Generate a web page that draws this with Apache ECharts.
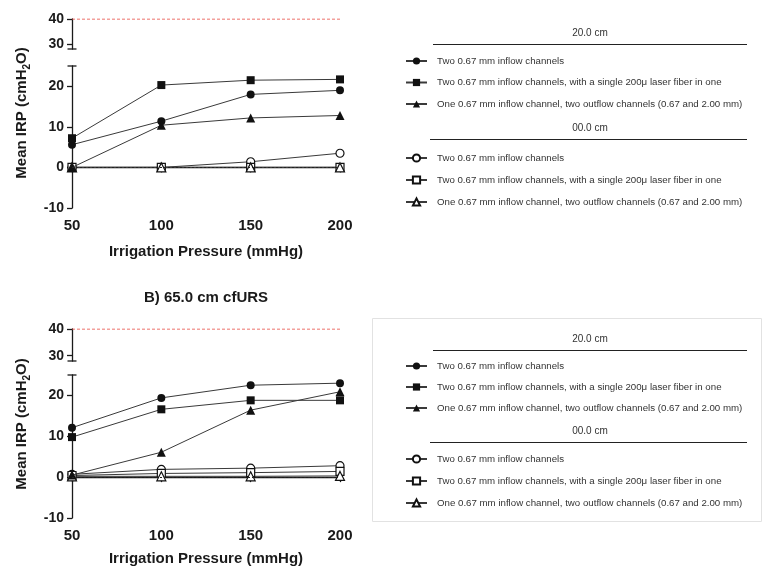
<!DOCTYPE html>
<html>
<head>
<meta charset="utf-8">
<script src="https://cdn.jsdelivr.net/npm/echarts@6/dist/echarts.min.js"></script>
<style>
html, body { margin: 0; padding: 0; background: #fff; }
#chart { width: 763px; height: 567px; }
</style>
</head>
<body>
<div id="chart"></div>
<script>
// Irrigation pressure settings (mmHg)
const pressures = [50, 100, 150, 200];
const xTicks = [50, 100, 150, 200];
const yTicksLower = [-10, 0, 10, 20];
const yTicksUpper = [30, 40];
const limitIRP = 40;

// Configuration labels (open-marker names carry a trailing space so the two groups stay distinct)
const cfgTwo = 'Two 0.67 mm inflow channels';
const cfgFiber = 'Two 0.67 mm inflow channels, with a single 200\u03bc laser fiber in one';
const cfgOutflow = 'One 0.67 mm inflow channel, two outflow channels (0.67 and 2.00 mm)';
const groupHigh = '20.0 cm';
const groupLow = '00.0 cm';
const panelBTitle = 'B) 65.0 cm cfURS';

// Panel A: mean IRP (cmH2O)
const a20Two = [5.6, 11.4, 18.0, 19.0];
const a20Fiber = [7.2, 20.3, 21.5, 21.7];
const a20Outflow = [0, 10.4, 12.2, 12.8];
const a00Two = [0, 0, 1.4, 3.5];
const a00Fiber = [0, 0, 0, 0];
const a00Outflow = [0, 0, 0, 0];

// Panel B: mean IRP (cmH2O)
const b20Two = [12.1, 19.4, 22.5, 23.0];
const b20Fiber = [9.8, 16.6, 18.8, 18.8];
const b20Outflow = [0.5, 6.1, 16.4, 20.9];
const b00Two = [0.7, 1.9, 2.2, 2.8];
const b00Fiber = [0.4, 0.9, 1.1, 1.4];
const b00Outflow = [0.2, 0.2, 0.2, 0.3];

const FONT = 'Liberation Sans, Arial, sans-serif';
const INK = '#1a1a1a';

// Panel geometry: each panel has an upper (30-40) and lower (-10-25) segment
const panels = [
  { upperTop: 19, upperH: 30, lowerTop: 66, lowerBottom: 208, nameGap: 36 },
  { upperTop: 329, upperH: 32, lowerTop: 375, lowerBottom: 518, nameGap: 33 }
];
const plotLeft = 72, plotWidth = 268;

const grids = [], xAxes = [], yAxes = [];
panels.forEach((p, i) => {
  grids.push({ left: plotLeft, width: plotWidth, top: p.upperTop, height: p.upperH, outerBoundsMode: 'none' });
  grids.push({ left: plotLeft, width: plotWidth, top: p.lowerTop, height: p.lowerBottom - p.lowerTop, outerBoundsMode: 'none' });
  xAxes.push({ type: 'value', gridIndex: 2 * i, min: 50, max: 200, show: false });
  xAxes.push({
    type: 'value', gridIndex: 2 * i + 1, min: 50, max: 200, interval: 50,
    name: 'Irrigation Pressure (mmHg)', nameLocation: 'middle', nameGap: p.nameGap,
    nameTextStyle: { fontFamily: FONT, fontWeight: 'bold', fontSize: 15, color: INK },
    axisLine: { lineStyle: { color: INK, width: 1.3 } },
    axisTick: { show: true, length: 5, lineStyle: { color: INK, width: 1.3 } },
    axisLabel: { margin: 10, fontFamily: FONT, fontWeight: 'bold', fontSize: 15, color: INK,
      customValues: xTicks },
    splitLine: { show: false }
  });
  yAxes.push({
    type: 'value', gridIndex: 2 * i, min: 28, max: 40,
    axisLine: { show: true, lineStyle: { color: INK, width: 1.3 }, symbol: ['rect', 'none'], symbolSize: [9, 1.3] },
    axisTick: { show: true, length: 5, lineStyle: { color: INK, width: 1.3 }, customValues: yTicksUpper },
    axisLabel: { margin: 8, fontFamily: FONT, fontWeight: 'bold', fontSize: 14, color: INK, customValues: yTicksUpper },
    splitLine: { show: false }
  });
  yAxes.push({
    type: 'value', gridIndex: 2 * i + 1, min: -10, max: 25,
    axisLine: { show: true, lineStyle: { color: INK, width: 1.3 }, symbol: ['none', 'rect'], symbolSize: [9, 1.3] },
    axisTick: { show: true, length: 5, lineStyle: { color: INK, width: 1.3 }, customValues: yTicksLower },
    axisLabel: { margin: 8, fontFamily: FONT, fontWeight: 'bold', fontSize: 14, color: INK, customValues: yTicksLower },
    splitLine: { show: false }
  });
});

function pts(values) { return pressures.map((p, i) => [p, values[i]]); }

function lineSeries(name, values, shape, filled, panel) {
  const size = shape === 'triangle' ? 9 : 8;
  return {
    type: 'line', name: name, xAxisIndex: 2 * panel + 1, yAxisIndex: 2 * panel + 1,
    data: pts(values), symbol: shape, symbolSize: size, showSymbol: true,
    itemStyle: { color: filled ? '#111' : '#fff', borderColor: '#111', borderWidth: filled ? 0 : 1.2 },
    lineStyle: { color: '#3a3a3a', width: 1 },
    z: filled ? 4 : 3, animation: false, silent: true
  };
}

function panelSeries(panel, d) {
  const list = [
    lineSeries(cfgTwo, d[0], 'circle', true, panel),
    lineSeries(cfgFiber, d[1], 'rect', true, panel),
    lineSeries(cfgOutflow, d[2], 'triangle', true, panel),
    lineSeries(cfgTwo + ' ', d[3], 'circle', false, panel),
    lineSeries(cfgFiber + ' ', d[4], 'rect', false, panel),
    lineSeries(cfgOutflow + ' ', d[5], 'triangle', false, panel)
  ];
  // zero reference line
  list[5].markLine = {
    silent: true, symbol: 'none', label: { show: false }, animation: false,
    lineStyle: { color: '#222', type: [2, 2], width: 1.2 },
    data: [{ yAxis: 0 }]
  };
  // pressure limit line in the upper segment
  list.push({
    type: 'line', name: 'limit', xAxisIndex: 2 * panel, yAxisIndex: 2 * panel,
    data: pts(pressures.map(() => limitIRP)), symbol: 'none',
    lineStyle: { color: '#e8423a', type: [3, 2], width: 1 }, animation: false, silent: true
  });
  return list;
}

const series = [
  ...panelSeries(0, [a20Two, a20Fiber, a20Outflow, a00Two, a00Fiber, a00Outflow]),
  ...panelSeries(1, [b20Two, b20Fiber, b20Outflow, b00Two, b00Fiber, b00Outflow])
];

const legendText = { fontFamily: FONT, fontSize: 9.7, color: '#333', padding: [0, 0, 0, 5] };
function legendBlock(top, gap, names) {
  return {
    orient: 'vertical', left: 400, top: top, itemWidth: 21, itemHeight: 9, itemGap: gap,
    selectedMode: false, data: names, textStyle: legendText
  };
}
const filledNames = [cfgTwo, cfgFiber, cfgOutflow];
const openNames = [cfgTwo + ' ', cfgFiber + ' ', cfgOutflow + ' '];

// legend block layout: header, rule, first row of each group
const legendLayout = [
  { h1: 33, r1: 44.5, l1: 51, h2: 128.5, r2: 139.5, l2: 148, gap1: 11.5, gap2: 12 },
  { h1: 339, r1: 350.5, l1: 356, h2: 431, r2: 442.5, l2: 449, gap1: 11, gap2: 12 }
];
const legends = [];
const graphics = [];
legendLayout.forEach((L) => {
  legends.push(legendBlock(L.l1, L.gap1, filledNames));
  legends.push(legendBlock(L.l2, L.gap2, openNames));
  graphics.push({ type: 'text', x: 590, y: L.h1, style: { text: groupHigh, fontFamily: FONT, fontSize: 10, fill: '#333', align: 'center', verticalAlign: 'middle' } });
  graphics.push({ type: 'line', shape: { x1: 433, y1: L.r1, x2: 747, y2: L.r1 }, style: { stroke: '#222', lineWidth: 1.2 } });
  graphics.push({ type: 'text', x: 590, y: L.h2, style: { text: groupLow, fontFamily: FONT, fontSize: 10, fill: '#333', align: 'center', verticalAlign: 'middle' } });
  graphics.push({ type: 'line', shape: { x1: 430, y1: L.r2, x2: 747, y2: L.r2 }, style: { stroke: '#222', lineWidth: 1.2 } });
});
// frame around the lower legend
graphics.push({ type: 'rect', shape: { x: 372.5, y: 318.5, width: 389, height: 203 }, style: { fill: 'none', stroke: '#e2e2e2', lineWidth: 1 }, z: -1 });

// y-axis titles and panel title
const yTitle = {
  text: 'Mean IRP (cmH{s|2}O)', fontFamily: FONT, fontWeight: 'bold', fontSize: 15, fill: INK,
  align: 'center', verticalAlign: 'middle',
  rich: { s: { fontFamily: FONT, fontWeight: 'bold', fontSize: 10, fill: INK, verticalAlign: 'bottom', padding: [11, 0, 0, 0] } }
};
graphics.push({ type: 'text', x: 22, y: 113, rotation: Math.PI / 2, style: yTitle });
graphics.push({ type: 'text', x: 22, y: 424, rotation: Math.PI / 2, style: yTitle });
graphics.push({ type: 'text', x: 206, y: 298, style: { text: panelBTitle, fontFamily: FONT, fontWeight: 'bold', fontSize: 15, fill: INK, align: 'center', verticalAlign: 'middle' } });

const chart = echarts.init(document.getElementById('chart'), null, { renderer: 'canvas' });
chart.setOption({
  backgroundColor: '#fff',
  animation: false,
  grid: grids,
  xAxis: xAxes,
  yAxis: yAxes,
  legend: legends,
  series: series,
  graphic: graphics
});
</script>
</body>
</html>
